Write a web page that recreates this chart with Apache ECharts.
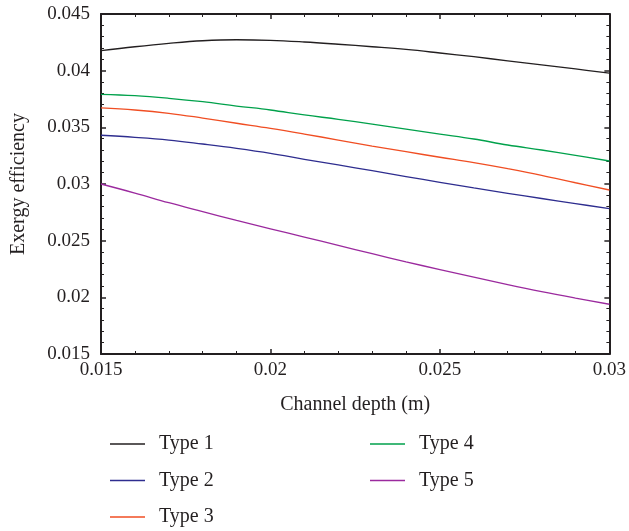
<!DOCTYPE html>
<html>
<head>
<meta charset="utf-8">
<script src="https://cdn.jsdelivr.net/npm/echarts@6/dist/echarts.min.js"></script>
<style>
html, body { margin: 0; padding: 0; background: #fff; }
#main { width: 629px; height: 531px; }
</style>
</head>
<body>
<div id="main"></div>
<script>
// channel depth (m)
var depth = [0.015, 0.016, 0.017, 0.018, 0.019, 0.020, 0.021, 0.022,
             0.023, 0.024, 0.025, 0.026, 0.027, 0.028, 0.029, 0.030];

// exergy efficiency
var type1 = [0.04176, 0.04211, 0.04241, 0.04264, 0.04273, 0.04268, 0.04253, 0.04233,
             0.04211, 0.04187, 0.04156, 0.04123, 0.04087, 0.04051, 0.04015, 0.03979];
var type2 = [0.0343, 0.03412, 0.03388, 0.03353, 0.03315, 0.03271, 0.03218, 0.03168,
             0.03118, 0.03066, 0.03015, 0.02965, 0.02918, 0.02872, 0.02827, 0.02782];
var type3 = [0.03671, 0.03653, 0.03624, 0.03582, 0.03536, 0.03491, 0.03441, 0.03388,
             0.03335, 0.03285, 0.03236, 0.03188, 0.03135, 0.03077, 0.03011, 0.02947];
var type4 = [0.03791, 0.03779, 0.03756, 0.03726, 0.03688, 0.03653, 0.03609, 0.03571,
             0.03529, 0.03485, 0.03441, 0.03397, 0.03344, 0.033, 0.03253, 0.03203];
var type5 = [0.0300, 0.0292, 0.02835, 0.02756, 0.02678, 0.02604, 0.02532, 0.02458,
             0.02385, 0.02313, 0.02245, 0.02178, 0.02112, 0.0205, 0.01993, 0.01939];

var names = ['Type 1', 'Type 2', 'Type 3', 'Type 4', 'Type 5'];
var colors = ['#231f20', '#2e2d8f', '#f04e23', '#00a14b', '#9b2a9e'];
var values = [type1, type2, type3, type4, type5];

var font = 'Liberation Serif';
var ink = '#231f20';

function pairs(ys) {
    var out = [];
    for (var i = 0; i < depth.length; i++) {
        out.push([depth[i], ys[i]]);
    }
    return out;
}

function frameAxis(opts) {
    var base = {
        type: 'value',
        axisLine: { show: true, onZero: false, lineStyle: { color: ink, width: 2 } },
        axisTick: { show: true, inside: true, length: 5, lineStyle: { color: ink, width: 1.5 } },
        minorTick: { show: true, splitNumber: 5, length: 3, lineStyle: { color: ink, width: 1 } },
        splitLine: { show: false },
        minorSplitLine: { show: false }
    };
    return Object.assign(base, opts);
}

var myChart = echarts.init(document.getElementById('main'));

var series = [];
for (var k = 0; k < names.length; k++) {
    series.push({
        name: names[k],
        type: 'line',
        smooth: 0.4,
        symbol: 'none',
        data: pairs(values[k]),
        lineStyle: { color: colors[k], width: 1.3 },
        itemStyle: { color: colors[k] }
    });
}

var legendText = { fontFamily: font, fontSize: 20, color: ink, padding: [0, 0, 0, 9] };

function legendCol(items, left) {
    return {
        data: items,
        orient: 'vertical',
        left: left, top: 434,
        padding: 0,
        icon: 'rect',
        itemWidth: 35, itemHeight: 1.6, itemGap: 16.5,
        textStyle: legendText
    };
}

var option = {
    animation: false,
    grid: { left: 101, right: 17, top: 14, bottom: 177 },
    xAxis: [
        frameAxis({
            min: 0.015, max: 0.03, interval: 0.005,
            position: 'bottom',
            name: 'Channel depth (m)',
            nameLocation: 'middle',
            nameGap: 41,
            nameTextStyle: { fontFamily: font, fontSize: 20, color: ink },
            axisLabel: { fontFamily: font, fontSize: 19, color: ink, margin: 7 }
        }),
        frameAxis({
            min: 0.015, max: 0.03, interval: 0.005,
            position: 'top',
            axisLabel: { show: false }
        })
    ],
    yAxis: [
        frameAxis({
            min: 0.015, max: 0.045, interval: 0.005,
            position: 'left',
            name: 'Exergy efficiency',
            nameLocation: 'middle',
            nameGap: 72,
            nameTextStyle: { fontFamily: font, fontSize: 20, color: ink },
            axisLabel: { fontFamily: font, fontSize: 19, color: ink, margin: 11 }
        }),
        frameAxis({
            min: 0.015, max: 0.045, interval: 0.005,
            position: 'right',
            axisLabel: { show: false }
        })
    ],
    legend: [
        legendCol(names.slice(0, 3), 110),
        legendCol(names.slice(3), 370)
    ],
    series: series
};

myChart.setOption(option);
</script>
</body>
</html>
